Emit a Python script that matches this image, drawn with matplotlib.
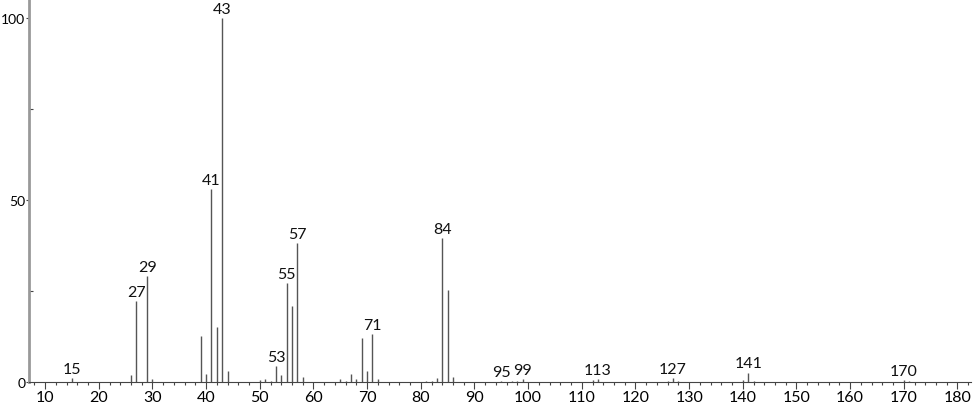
import matplotlib
matplotlib.use("Agg")
import matplotlib.pyplot as plt
from matplotlib.ticker import MultipleLocator

plt.rcParams["font.family"] = ["Lato", "DejaVu Sans"]

# m/z and relative intensity
mz = [15, 26, 27, 29, 30, 39, 40, 41, 42, 43, 44,
      50, 51, 52, 53, 54, 55, 56, 57, 58,
      65, 66, 67, 68, 69, 70, 71, 72,
      81, 82, 83, 84, 85, 86,
      95, 97, 98, 99, 112, 113,
      126, 127, 128, 140, 141, 142, 170, 171]
intensity = [1.0, 2.0, 22.3, 29.0, 0.8, 12.6, 2.3, 53.0, 15.0, 100.0, 3.1,
             0.5, 0.9, 0.4, 4.3, 1.9, 27.3, 20.9, 38.2, 1.5,
             0.8, 0.3, 2.2, 0.8, 12.2, 3.0, 13.1, 0.8,
             0.3, 0.4, 1.2, 39.6, 25.3, 1.4,
             0.2, 0.3, 0.3, 0.8, 0.5, 0.8,
             0.3, 1.1, 0.3, 0.5, 2.6, 0.2, 0.5, 0.2]
labeled = [15, 27, 29, 41, 43, 53, 55, 57, 71, 84, 95, 99, 113, 127, 141, 170]

fig = plt.figure(figsize=(9.74, 4.06), dpi=100)
ax = fig.add_axes([0.0298, 0.0567, 0.967, 0.9433])

ax.vlines(mz, 0, intensity, colors="#555555", linewidth=1.0)

lookup = dict(zip(mz, intensity))
for m in labeled:
    ax.annotate(str(m), (m, lookup[m]), xytext=(0, 1.5), textcoords="offset points",
                ha="center", va="bottom", fontsize=11.5, color="#111111")

ax.set_xlim(7, 182.5)
ax.set_ylim(0, 105.2)

ax.spines["top"].set_visible(False)
ax.spines["right"].set_visible(False)
ax.spines["left"].set_color("#999999")
ax.spines["left"].set_linewidth(2.0)
ax.spines["bottom"].set_color("#444444")
ax.spines["bottom"].set_linewidth(0.8)

ax.set_xticks(range(10, 181, 10))
ax.xaxis.set_minor_locator(MultipleLocator(2))
ax.yaxis.set_major_locator(MultipleLocator(50))
ax.yaxis.set_minor_locator(MultipleLocator(25))

ax.tick_params(axis="x", which="major", length=5, width=0.8, color="#444444",
               labelsize=11.5, pad=0.5)
ax.tick_params(axis="x", which="minor", length=2.5, width=0.8, color="#444444")
ax.tick_params(axis="y", which="major", length=2.5, width=0.8, color="#444444",
               labelsize=10, pad=0.2)
ax.tick_params(axis="y", which="minor", direction="in", length=3, width=0.8,
               color="#444444")

fig.savefig("out.png", dpi=100)
